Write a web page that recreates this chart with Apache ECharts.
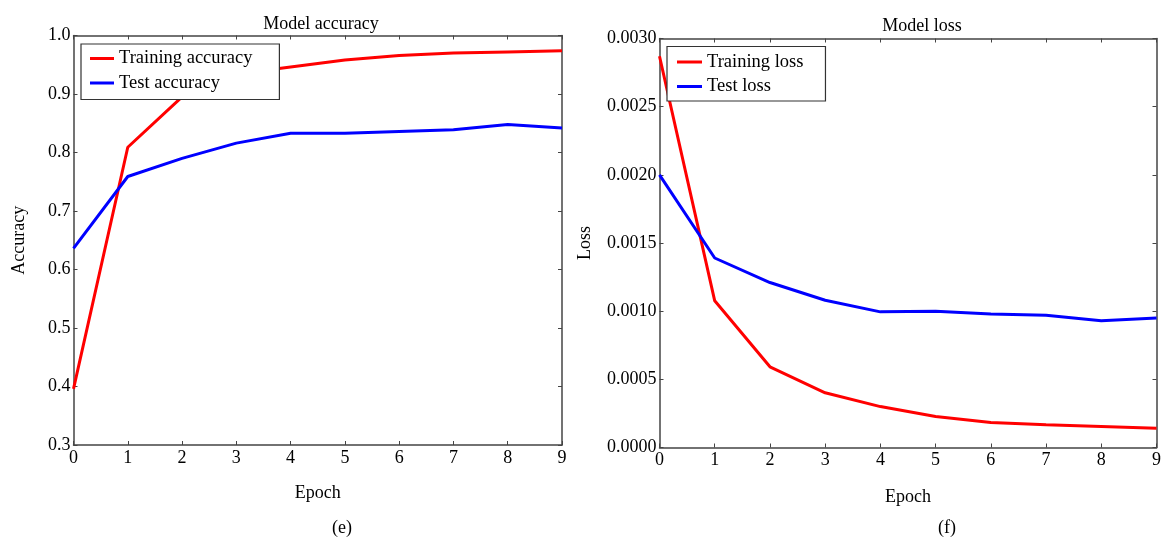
<!DOCTYPE html>
<html>
<head>
<meta charset="utf-8">
<script src="https://cdn.jsdelivr.net/npm/echarts@6/dist/echarts.min.js"></script>
<style>html,body{margin:0;padding:0;background:#fff}#c{width:1164px;height:538px}</style>
</head>
<body>
<div id="c"></div>
<script>
const epochs = [0,1,2,3,4,5,6,7,8,9];
const trainAcc = [0.396,0.809,0.895,0.934,0.946,0.958,0.966,0.970,0.972,0.974];
const testAcc  = [0.636,0.759,0.790,0.816,0.833,0.833,0.836,0.839,0.848,0.842];
const trainLoss = [0.00287,0.001076,0.000592,0.000401,0.000300,0.000227,0.000183,0.000166,0.000154,0.000142];
const testLoss  = [0.00200,0.00139,0.00121,0.00108,0.000995,0.00100,0.00098,0.00097,0.00093,0.00095];

const FONT = 'Liberation Serif';
const pair = (ys) => epochs.map((e,i)=>[e, ys[i]]);

const axLine = {show:true, onZero:false, lineStyle:{color:'#444', width:1.5}};
const tick = {show:true, inside:true, length:4, lineStyle:{color:'#444', width:1}};

function xAxes(gi, nameGap){
  return [
    {gridIndex:gi, type:'value', min:0, max:9, interval:1, position:'bottom',
     name:'Epoch', nameLocation:'middle', nameGap:nameGap,
     nameTextStyle:{fontFamily:FONT, fontSize:18, color:'#000'},
     axisLine:axLine, axisTick:tick, splitLine:{show:false},
     axisLabel:{fontFamily:FONT, fontSize:18, color:'#000', margin:4}},
    {gridIndex:gi, type:'value', min:0, max:9, interval:1, position:'top',
     axisLine:axLine, axisTick:tick, splitLine:{show:false}, axisLabel:{show:false}}
  ];
}
function yAxes(gi, min, max, interval, digits, name, nameGap){
  return [
    {gridIndex:gi, type:'value', min:min, max:max, interval:interval, position:'left',
     name:name, nameLocation:'middle', nameGap:nameGap, nameRotate:90,
     nameTextStyle:{fontFamily:FONT, fontSize:18, color:'#000'},
     axisLine:axLine, axisTick:tick, splitLine:{show:false},
     axisLabel:{fontFamily:FONT, fontSize:18, color:'#000', margin:3,
       formatter:(v)=>v.toFixed(digits)}},
    {gridIndex:gi, type:'value', min:min, max:max, interval:interval, position:'right',
     axisLine:axLine, axisTick:tick, splitLine:{show:false}, axisLabel:{show:false}}
  ];
}

const legendBase = {
  orient:'vertical', icon:'rect', itemHeight:3, itemGap:5.5,
  borderColor:'#333', borderWidth:1.2, backgroundColor:'#fff', borderRadius:0,
  textStyle:{fontFamily:FONT, fontSize:18.5, color:'#000'}
};

const lineS = (name, data, color, xi, yi) => ({
  name, type:'line', data, xAxisIndex:xi, yAxisIndex:yi,
  showSymbol:false, symbol:'none', lineStyle:{color, width:3}, itemStyle:{color},
  animation:false, z:3
});

const titleStyle = (fs) => ({fontFamily:FONT, fontSize:fs, fontWeight:'normal', color:'#000'});

const chart = echarts.init(document.getElementById('c'));
chart.setOption({
  animation:false,
  backgroundColor:'#fff',
  title:[
    {text:'Model accuracy', left:316, top:10, textAlign:'center', textStyle:titleStyle(18)},
    {text:'Model loss', left:917, top:12, textAlign:'center', textStyle:titleStyle(18)},
    {text:'(e)', left:337, top:514, textAlign:'center', textStyle:titleStyle(18)},
    {text:'(f)', left:942, top:514, textAlign:'center', textStyle:titleStyle(18)}
  ],
  grid:[
    {left:73.5, top:35.5, width:488.5, height:409.5},
    {left:659.5, top:38.5, width:498, height:409}
  ],
  xAxis:[...xAxes(0,39), ...xAxes(1,41)],
  yAxis:[...yAxes(0,0.3,1.0,0.1,1,'Accuracy',45), ...yAxes(1,0,0.003,0.0005,4,'Loss',65)],
  legend:[
    Object.assign({}, legendBase, {left:81, top:44, itemWidth:24, padding:[5,27,7,9], data:['Training accuracy','Test accuracy']}),
    Object.assign({}, legendBase, {left:667, top:46.5, itemWidth:25, padding:[6,22,5,10], data:['Training loss','Test loss']})
  ],
  series:[
    lineS('Training accuracy', pair(trainAcc), '#ff0000', 0, 0),
    lineS('Test accuracy', pair(testAcc), '#0000ff', 0, 0),
    lineS('Training loss', pair(trainLoss), '#ff0000', 2, 2),
    lineS('Test loss', pair(testLoss), '#0000ff', 2, 2)
  ]
});
</script>
</body>
</html>
